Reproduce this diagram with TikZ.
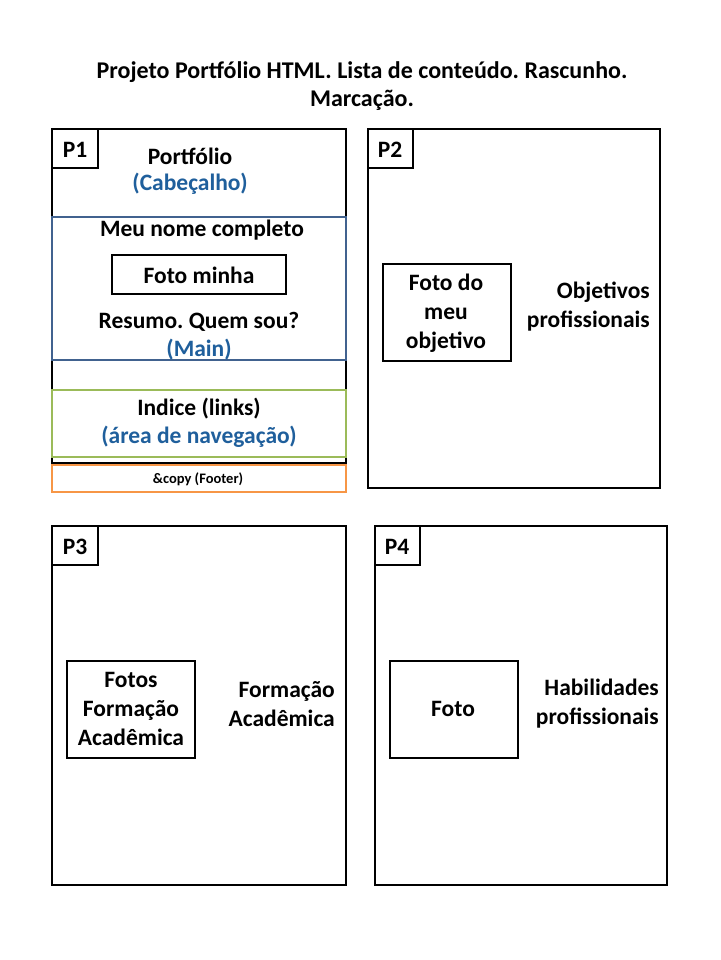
\documentclass[tikz,border=0pt]{standalone}
\usepackage{fontspec}
\setmainfont{Carlito}
\frenchspacing
\begin{document}
\begin{tikzpicture}[x=1pt,y=-1pt,
  every node/.style={font=\bfseries\fontsize{23.5}{29}\selectfont, inner sep=0pt, align=center},
  frame/.style={draw=black, line width=2.5pt},
  lbl/.style={draw=black, line width=2.5pt},
  bluetxt/.style={text=blueT},
  side/.style={align=right, anchor=east},
]
\definecolor{blueT}{HTML}{1F5F9C}
\definecolor{blueL}{HTML}{41628F}
\definecolor{greenL}{HTML}{9BBB59}
\definecolor{orangeL}{HTML}{F79646}
\useasboundingbox (0,0) rectangle (720,960);
\fill[white] (0,0) rectangle (720,960);

% title
\node[font=\bfseries\fontsize{24}{28}\selectfont] (title1) at (362,72) {Projeto Portfólio HTML. Lista de conteúdo. Rascunho.};
\node[font=\bfseries\fontsize{24}{28}\selectfont] (title2) at (362,100) {Marcação.};

% P1
\draw[frame] (52,129) rectangle (346,463);
\draw[draw=blueL, line width=2.5pt] (52,217) rectangle (346,360);
\draw[draw=greenL, line width=2.5pt] (52,390) rectangle (346,457);
\draw[draw=orangeL, line width=2.5pt] (52,465) rectangle (346,492);
\draw[lbl] (52,129) rectangle (98,168);
\node (p1) at (75,150) {P1};
\node (portf) at (190,156) {Portfólio};
\node[bluetxt] (cab) at (190,184) {(Cabeçalho)};
\node (nome) at (202,230) {Meu nome completo};
\draw[frame] (112,255) rectangle (286,294);
\node (foto1) at (199,275) {Foto minha};
\node (resumo) at (199,322) {Resumo. Quem sou?};
\node[bluetxt] (main) at (199,350) {(Main)};
\node (indice) at (199,409) {Indice (links)};
\node[bluetxt] (nav) at (199,437) {(área de navegação)};
\node[font=\bfseries\fontsize{14.5}{16}\selectfont] (foot) at (198,479) {\&copy (Footer)};

% P2
\draw[frame] (368,129) rectangle (660,488);
\draw[lbl] (368,129) rectangle (413,168);
\node (p2) at (390,150) {P2};
\draw[frame] (383,264) rectangle (511,361);
\node (foto2) at (446,313) {Foto do\\meu\\objetivo};
\node[side] (obj) at (650,307) {Objetivos\\profissionais};

% P3
\draw[frame] (52,526) rectangle (346,885);
\draw[lbl] (52,526) rectangle (98,565);
\node (p3) at (75,547) {P3};
\draw[frame] (67,661) rectangle (195,758);
\node (foto3) at (131,709) {Fotos\\Formação\\Acadêmica};
\node[side] (form) at (335,704) {Formação\\Acadêmica};

% P4
\draw[frame] (375,526) rectangle (667,885);
\draw[lbl] (375,526) rectangle (420,565);
\node (p4) at (397,547) {P4};
\draw[frame] (390,661) rectangle (518,758);
\node (foto4) at (453,709) {Foto};
\node[side] (hab) at (659,704) {Habilidades\\profissionais};
\end{tikzpicture}
\end{document}
